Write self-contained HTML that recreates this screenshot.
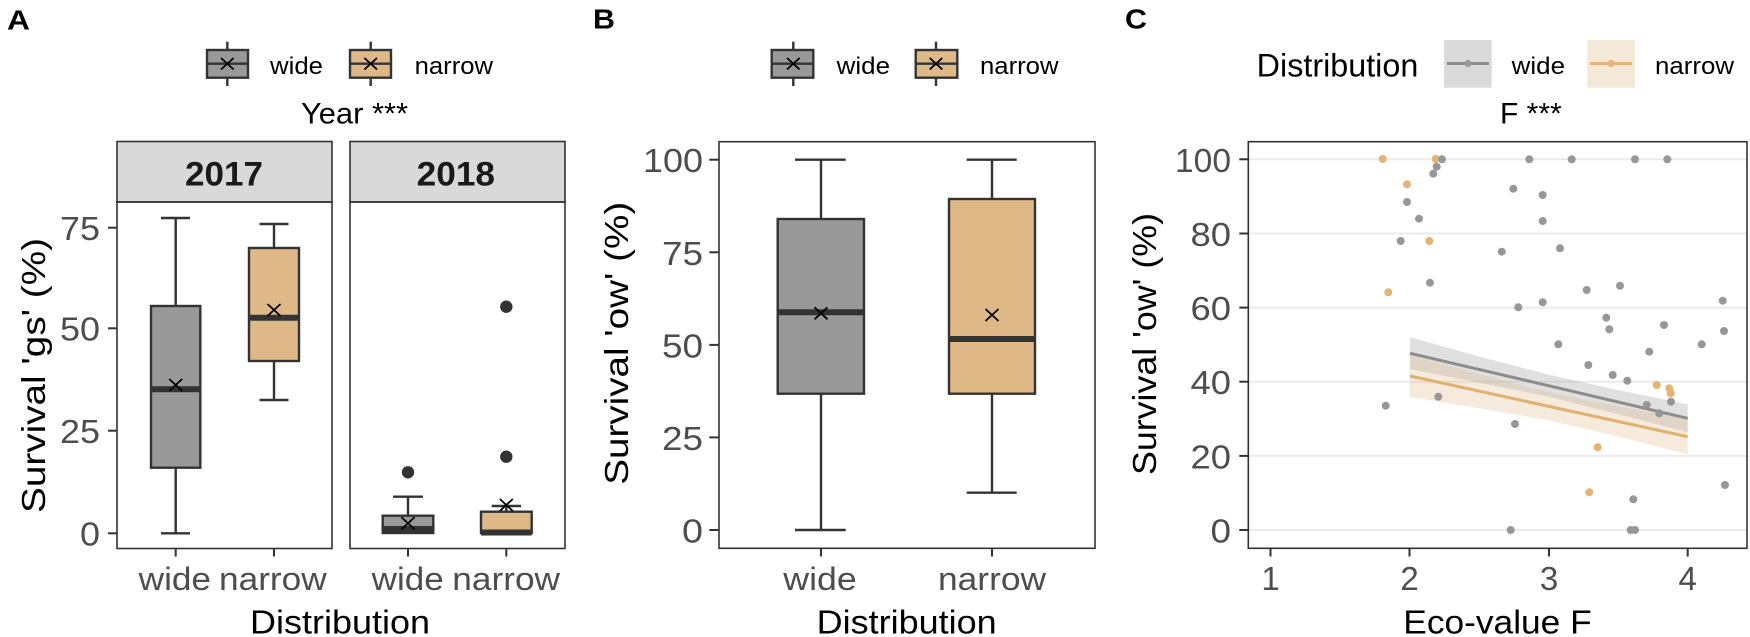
<!DOCTYPE html>
<html><head><meta charset="utf-8"><style>
html,body{margin:0;padding:0;background:#fff;}
svg{display:block;font-family:"Liberation Sans",Arial,sans-serif;}
</style></head><body>
<svg width="1750" height="637" viewBox="0 0 1750 637" xmlns="http://www.w3.org/2000/svg">
<rect x="0" y="0" width="1750" height="637" fill="#fff"/>

<text x="7" y="29.3" font-size="28" font-weight="bold" textLength="23" lengthAdjust="spacingAndGlyphs">A</text>
<text x="593" y="28.3" font-size="28" font-weight="bold" textLength="22" lengthAdjust="spacingAndGlyphs">B</text>
<text x="1125" y="28.3" font-size="28" font-weight="bold" textLength="22" lengthAdjust="spacingAndGlyphs">C</text>

<g stroke="#333" stroke-width="2.4">
<line x1="227.3" y1="41.7" x2="227.3" y2="86"/>
<rect x="207" y="50" width="41" height="27.7" fill="#999999"/>
<line x1="207" y1="63.7" x2="248" y2="63.7"/>
<line x1="370.7" y1="41.7" x2="370.7" y2="86"/>
<rect x="350" y="50" width="41" height="27.7" fill="#deb887"/>
<line x1="350" y1="63.7" x2="391" y2="63.7"/>
</g>
<g stroke="#000" stroke-width="1.8">
<line x1="221" y1="58" x2="233.6" y2="69.4"/><line x1="221" y1="69.4" x2="233.6" y2="58"/>
<line x1="364.4" y1="58" x2="377" y2="69.4"/><line x1="364.4" y1="69.4" x2="377" y2="58"/>
</g>
<text x="270" y="74" font-size="24" textLength="53" lengthAdjust="spacingAndGlyphs">wide</text>
<text x="414.7" y="74" font-size="24" textLength="78.3" lengthAdjust="spacingAndGlyphs">narrow</text>
<text x="301" y="123.3" font-size="30" textLength="107" lengthAdjust="spacingAndGlyphs">Year ***</text>

<rect x="117" y="141.5" width="215" height="60.5" fill="#d9d9d9" stroke="#333" stroke-width="1.6"/>
<rect x="350" y="141.5" width="215" height="60.5" fill="#d9d9d9" stroke="#333" stroke-width="1.6"/>
<text x="185" y="185.3" font-size="34" font-weight="bold" fill="#1a1a1a" textLength="78" lengthAdjust="spacingAndGlyphs">2017</text>
<text x="416.7" y="185.3" font-size="34" font-weight="bold" fill="#1a1a1a" textLength="78.3" lengthAdjust="spacingAndGlyphs">2018</text>

<g stroke="#333" stroke-width="2">
<line x1="108" y1="227.7" x2="117" y2="227.7"/>
<line x1="108" y1="328.3" x2="117" y2="328.3"/>
<line x1="108" y1="430.7" x2="117" y2="430.7"/>
<line x1="108" y1="533.3" x2="117" y2="533.3"/>
<line x1="175.7" y1="548.5" x2="175.7" y2="556.5"/>
<line x1="274" y1="548.5" x2="274" y2="556.5"/>
<line x1="408" y1="548.5" x2="408" y2="556.5"/>
<line x1="506.3" y1="548.5" x2="506.3" y2="556.5"/>
</g>
<g font-size="33" fill="#4d4d4d">
<text x="60" y="240" textLength="40" lengthAdjust="spacingAndGlyphs">75</text>
<text x="60" y="340.6" textLength="40" lengthAdjust="spacingAndGlyphs">50</text>
<text x="60" y="443" textLength="40" lengthAdjust="spacingAndGlyphs">25</text>
<text x="80" y="545.6" textLength="20" lengthAdjust="spacingAndGlyphs">0</text>
</g>
<g font-size="32" fill="#4d4d4d">
<text x="138.7" y="590" textLength="72.3" lengthAdjust="spacingAndGlyphs">wide</text>
<text x="219" y="590" textLength="107.7" lengthAdjust="spacingAndGlyphs">narrow</text>
<text x="371.7" y="590" textLength="72" lengthAdjust="spacingAndGlyphs">wide</text>
<text x="452.3" y="590" textLength="107.7" lengthAdjust="spacingAndGlyphs">narrow</text>
</g>
<text x="250" y="633.3" font-size="33" textLength="180" lengthAdjust="spacingAndGlyphs">Distribution</text>
<text transform="translate(45,375.5) rotate(-90)" x="-137.5" y="0" font-size="33" textLength="275" lengthAdjust="spacingAndGlyphs">Survival  'gs'  (%)</text>

<g stroke="#333" stroke-width="2.4" fill="none">
<line x1="175.7" y1="218" x2="175.7" y2="306"/>
<line x1="175.7" y1="467.7" x2="175.7" y2="533.3"/>
<line x1="161" y1="218" x2="190" y2="218"/>
<line x1="161" y1="533.3" x2="190" y2="533.3"/>
<rect x="151" y="306" width="49.3" height="161.7" fill="#999999"/>
<line x1="151" y1="389.3" x2="200.3" y2="389.3" stroke-width="6"/>
<line x1="274" y1="224" x2="274" y2="248"/>
<line x1="274" y1="361" x2="274" y2="400"/>
<line x1="259.5" y1="224" x2="288.5" y2="224"/>
<line x1="259.5" y1="400" x2="288.5" y2="400"/>
<rect x="249" y="248" width="50" height="113" fill="#deb887"/>
<line x1="249" y1="317.7" x2="299" y2="317.7" stroke-width="6"/>
</g>
<g stroke="#333" stroke-width="2.4" fill="none">
<line x1="408" y1="496.7" x2="408" y2="515.7"/>
<line x1="393" y1="496.7" x2="423" y2="496.7"/>
<rect x="382.7" y="515.7" width="50.6" height="17.3" fill="#999999"/>
<line x1="382.7" y1="529" x2="433.3" y2="529" stroke-width="6"/>
<line x1="506.3" y1="506" x2="506.3" y2="511.7"/>
<line x1="491.7" y1="506" x2="521" y2="506"/>
<rect x="481" y="511.7" width="50.7" height="21.3" fill="#deb887"/>
<line x1="481" y1="532.5" x2="531.7" y2="532.5" stroke-width="6"/>
</g>
<g fill="#333">
<circle cx="408" cy="472.3" r="6.2"/>
<circle cx="506.3" cy="306.7" r="6.2"/>
<circle cx="506.3" cy="456.7" r="6.2"/>
</g>
<g stroke="#000" stroke-width="1.8">
<line x1="169.2" y1="379" x2="182.2" y2="391"/><line x1="169.2" y1="391" x2="182.2" y2="379"/>
<line x1="267.5" y1="304" x2="280.5" y2="316"/><line x1="267.5" y1="316" x2="280.5" y2="304"/>
<line x1="401.5" y1="517.3" x2="414.5" y2="529.3"/><line x1="401.5" y1="529.3" x2="414.5" y2="517.3"/>
<line x1="499.8" y1="499" x2="512.8" y2="511"/><line x1="499.8" y1="511" x2="512.8" y2="499"/>
</g>
<rect x="117" y="202" width="215" height="346.5" fill="none" stroke="#333" stroke-width="1.6"/>
<rect x="350" y="202" width="215" height="346.5" fill="none" stroke="#333" stroke-width="1.6"/>

<g stroke="#333" stroke-width="2.4">
<line x1="793.3" y1="41.7" x2="793.3" y2="86"/>
<rect x="771.7" y="50" width="41.6" height="27.7" fill="#999999"/>
<line x1="771.7" y1="63.7" x2="813.3" y2="63.7"/>
<line x1="936" y1="41.7" x2="936" y2="86"/>
<rect x="915.7" y="50" width="41.6" height="27.7" fill="#deb887"/>
<line x1="915.7" y1="63.7" x2="957.3" y2="63.7"/>
</g>
<g stroke="#000" stroke-width="1.8">
<line x1="787" y1="58" x2="799.6" y2="69.4"/><line x1="787" y1="69.4" x2="799.6" y2="58"/>
<line x1="929.7" y1="58" x2="942.3" y2="69.4"/><line x1="929.7" y1="69.4" x2="942.3" y2="58"/>
</g>
<text x="836.7" y="74" font-size="24" textLength="53.3" lengthAdjust="spacingAndGlyphs">wide</text>
<text x="980" y="74" font-size="24" textLength="78.5" lengthAdjust="spacingAndGlyphs">narrow</text>

<g stroke="#333" stroke-width="2">
<line x1="709.3" y1="159.7" x2="719" y2="159.7"/>
<line x1="709.3" y1="252.3" x2="719" y2="252.3"/>
<line x1="709.3" y1="344.9" x2="719" y2="344.9"/>
<line x1="709.3" y1="437.4" x2="719" y2="437.4"/>
<line x1="709.3" y1="530" x2="719" y2="530"/>
<line x1="821" y1="548.3" x2="821" y2="556.5"/>
<line x1="992" y1="548.3" x2="992" y2="556.5"/>
</g>
<g font-size="33" fill="#4d4d4d">
<text x="643" y="172.2" textLength="60" lengthAdjust="spacingAndGlyphs">100</text>
<text x="662" y="264.8" textLength="41" lengthAdjust="spacingAndGlyphs">75</text>
<text x="662" y="357.4" textLength="41" lengthAdjust="spacingAndGlyphs">50</text>
<text x="662" y="449.9" textLength="41" lengthAdjust="spacingAndGlyphs">25</text>
<text x="682" y="542.5" textLength="21" lengthAdjust="spacingAndGlyphs">0</text>
</g>
<g font-size="32" fill="#4d4d4d">
<text x="783.3" y="590" textLength="73.4" lengthAdjust="spacingAndGlyphs">wide</text>
<text x="938" y="590" textLength="108" lengthAdjust="spacingAndGlyphs">narrow</text>
</g>
<text x="816.7" y="633.3" font-size="33" textLength="180" lengthAdjust="spacingAndGlyphs">Distribution</text>
<text transform="translate(628,343.3) rotate(-90)" x="-141.5" y="0" font-size="33" textLength="283" lengthAdjust="spacingAndGlyphs">Survival  'ow'  (%)</text>

<g stroke="#333" stroke-width="2.4" fill="none">
<line x1="821" y1="159.7" x2="821" y2="219"/>
<line x1="821" y1="393.7" x2="821" y2="530"/>
<line x1="795" y1="159.7" x2="845.7" y2="159.7"/>
<line x1="795" y1="530" x2="845.7" y2="530"/>
<rect x="777.7" y="219" width="86.3" height="174.7" fill="#999999"/>
<line x1="777.7" y1="312.3" x2="864" y2="312.3" stroke-width="6"/>
<line x1="992" y1="159.7" x2="992" y2="199"/>
<line x1="992" y1="393.7" x2="992" y2="492.7"/>
<line x1="966.7" y1="159.7" x2="1016.7" y2="159.7"/>
<line x1="966.7" y1="492.7" x2="1016.7" y2="492.7"/>
<rect x="949" y="199" width="86" height="194.7" fill="#deb887"/>
<line x1="949" y1="339" x2="1035" y2="339" stroke-width="6"/>
</g>
<g stroke="#000" stroke-width="1.8">
<line x1="814.5" y1="307.3" x2="827.5" y2="319.3"/><line x1="814.5" y1="319.3" x2="827.5" y2="307.3"/>
<line x1="985.5" y1="309" x2="998.5" y2="321"/><line x1="985.5" y1="321" x2="998.5" y2="309"/>
</g>
<rect x="719" y="141.7" width="376" height="406.6" fill="none" stroke="#333" stroke-width="1.6"/>

<text x="1256.7" y="76.5" font-size="32" textLength="161.6" lengthAdjust="spacingAndGlyphs">Distribution</text>
<rect x="1444" y="40" width="47.7" height="47.7" fill="#dadada"/>
<line x1="1447" y1="63.5" x2="1489" y2="63.5" stroke="#8c8c8c" stroke-width="3"/>
<circle cx="1468" cy="63.5" r="3.6" fill="#999"/>
<rect x="1587.3" y="40" width="47.7" height="47.7" fill="#f4e8d8"/>
<line x1="1590" y1="63.5" x2="1632" y2="63.5" stroke="#e3b476" stroke-width="3"/>
<circle cx="1611" cy="63.5" r="3.6" fill="#e3b476"/>
<text x="1511.7" y="74" font-size="24" textLength="53.3" lengthAdjust="spacingAndGlyphs">wide</text>
<text x="1655" y="74" font-size="24" textLength="79" lengthAdjust="spacingAndGlyphs">narrow</text>
<text x="1500" y="123.3" font-size="30" textLength="61.7" lengthAdjust="spacingAndGlyphs">F ***</text>

<g stroke="#ebebeb" stroke-width="2">
<line x1="1249" y1="530" x2="1746" y2="530"/>
<line x1="1249" y1="455.9" x2="1746" y2="455.9"/>
<line x1="1249" y1="381.7" x2="1746" y2="381.7"/>
<line x1="1249" y1="307.6" x2="1746" y2="307.6"/>
<line x1="1249" y1="233.5" x2="1746" y2="233.5"/>
<line x1="1249" y1="159.3" x2="1746" y2="159.3"/>
</g>
<g stroke="#333" stroke-width="2">
<line x1="1239.3" y1="159.3" x2="1248.3" y2="159.3"/>
<line x1="1239.3" y1="233.5" x2="1248.3" y2="233.5"/>
<line x1="1239.3" y1="307.6" x2="1248.3" y2="307.6"/>
<line x1="1239.3" y1="381.7" x2="1248.3" y2="381.7"/>
<line x1="1239.3" y1="455.9" x2="1248.3" y2="455.9"/>
<line x1="1239.3" y1="530" x2="1248.3" y2="530"/>
<line x1="1270.5" y1="548.3" x2="1270.5" y2="556.5"/>
<line x1="1409.5" y1="548.3" x2="1409.5" y2="556.5"/>
<line x1="1549" y1="548.3" x2="1549" y2="556.5"/>
<line x1="1687.7" y1="548.3" x2="1687.7" y2="556.5"/>
</g>
<g font-size="33" fill="#4d4d4d">
<text x="1175" y="171.8" textLength="56" lengthAdjust="spacingAndGlyphs">100</text>
<text x="1190.5" y="246" textLength="40.5" lengthAdjust="spacingAndGlyphs">80</text>
<text x="1190.5" y="320.1" textLength="40.5" lengthAdjust="spacingAndGlyphs">60</text>
<text x="1190.5" y="394.2" textLength="40.5" lengthAdjust="spacingAndGlyphs">40</text>
<text x="1190.5" y="468.4" textLength="40.5" lengthAdjust="spacingAndGlyphs">20</text>
<text x="1210.5" y="542.5" textLength="20.5" lengthAdjust="spacingAndGlyphs">0</text>
<text x="1270.5" y="590" text-anchor="middle">1</text>
<text x="1409.5" y="590" text-anchor="middle">2</text>
<text x="1549" y="590" text-anchor="middle">3</text>
<text x="1687.7" y="590" text-anchor="middle">4</text>
</g>
<text x="1403.3" y="633.3" font-size="33" textLength="188.4" lengthAdjust="spacingAndGlyphs">Eco-value F</text>
<text transform="translate(1156,344) rotate(-90)" x="-131" y="0" font-size="33" textLength="262" lengthAdjust="spacingAndGlyphs">Survival 'ow' (%)</text>

<path d="M1410,337.3 L1479.5,356.6 L1549,374.8 L1618.3,390.1 L1687.7,404.3 L1687.7,432.3 L1618.3,414.1 L1549,396.8 L1479.5,382.6 L1410,369.3 Z" fill="#999999" fill-opacity="0.3"/>
<path d="M1410,355 L1479.5,374.2 L1549,392.4 L1618.3,406.5 L1687.7,419.2 L1687.7,454.2 L1618.3,436.5 L1549,420.4 L1479.5,408.2 L1410,397 Z" fill="#deb887" fill-opacity="0.3"/>
<path d="M1410,353.3 L1479.5,369.6 L1549,385.8 L1618.3,402.1 L1687.7,418.3" fill="none" stroke="#8c8c8c" stroke-width="3"/>
<path d="M1410,376 L1479.5,391.2 L1549,406.4 L1618.3,421.5 L1687.7,436.7" fill="none" stroke="#e0b16e" stroke-width="3"/>

<g fill="#e3b476">
<circle cx="1382.7" cy="159" r="4"/>
<circle cx="1435.7" cy="159" r="4"/>
<circle cx="1407" cy="184.3" r="4"/>
<circle cx="1429.3" cy="241" r="4"/>
<circle cx="1388.3" cy="292.3" r="4"/>
<circle cx="1656.7" cy="385" r="4"/>
<circle cx="1669.3" cy="388.3" r="4"/>
<circle cx="1670.7" cy="393.3" r="4"/>
<circle cx="1597.7" cy="447.3" r="4"/>
<circle cx="1589.3" cy="492.3" r="4"/>
</g>
<g fill="#979797">
<circle cx="1442" cy="159.3" r="4"/>
<circle cx="1529.3" cy="159.3" r="4"/>
<circle cx="1571.7" cy="159.3" r="4"/>
<circle cx="1635" cy="159.3" r="4"/>
<circle cx="1667.3" cy="159.3" r="4"/>
<circle cx="1436.7" cy="166.7" r="4"/>
<circle cx="1433.3" cy="173.7" r="4"/>
<circle cx="1513.3" cy="188.7" r="4"/>
<circle cx="1542.7" cy="195" r="4"/>
<circle cx="1407" cy="202" r="4"/>
<circle cx="1419" cy="218.7" r="4"/>
<circle cx="1542.7" cy="221" r="4"/>
<circle cx="1400.7" cy="241" r="4"/>
<circle cx="1501.7" cy="251.7" r="4"/>
<circle cx="1560" cy="248.3" r="4"/>
<circle cx="1430" cy="282.7" r="4"/>
<circle cx="1586.7" cy="290" r="4"/>
<circle cx="1620" cy="285.7" r="4"/>
<circle cx="1518.3" cy="307.3" r="4"/>
<circle cx="1542.7" cy="302.3" r="4"/>
<circle cx="1722.7" cy="300.7" r="4"/>
<circle cx="1606.3" cy="317.7" r="4"/>
<circle cx="1609.3" cy="329.3" r="4"/>
<circle cx="1664" cy="325" r="4"/>
<circle cx="1724" cy="331" r="4"/>
<circle cx="1558.3" cy="344.3" r="4"/>
<circle cx="1701.7" cy="344.3" r="4"/>
<circle cx="1649.3" cy="351.7" r="4"/>
<circle cx="1588.3" cy="365" r="4"/>
<circle cx="1612.7" cy="375" r="4"/>
<circle cx="1627.3" cy="380.7" r="4"/>
<circle cx="1671" cy="401.7" r="4"/>
<circle cx="1646.7" cy="405" r="4"/>
<circle cx="1659.3" cy="413.3" r="4"/>
<circle cx="1438.3" cy="396.7" r="4"/>
<circle cx="1515" cy="424" r="4"/>
<circle cx="1633.3" cy="499.3" r="4"/>
<circle cx="1725" cy="485" r="4"/>
<circle cx="1510.7" cy="530" r="4"/>
<circle cx="1630.7" cy="530" r="4"/>
<circle cx="1635" cy="530" r="4"/>
<circle cx="1385.7" cy="405.7" r="4"/>
</g>
<rect x="1248.3" y="141.7" width="498.7" height="406.6" fill="none" stroke="#333" stroke-width="1.6"/>
</svg>
</body></html>
